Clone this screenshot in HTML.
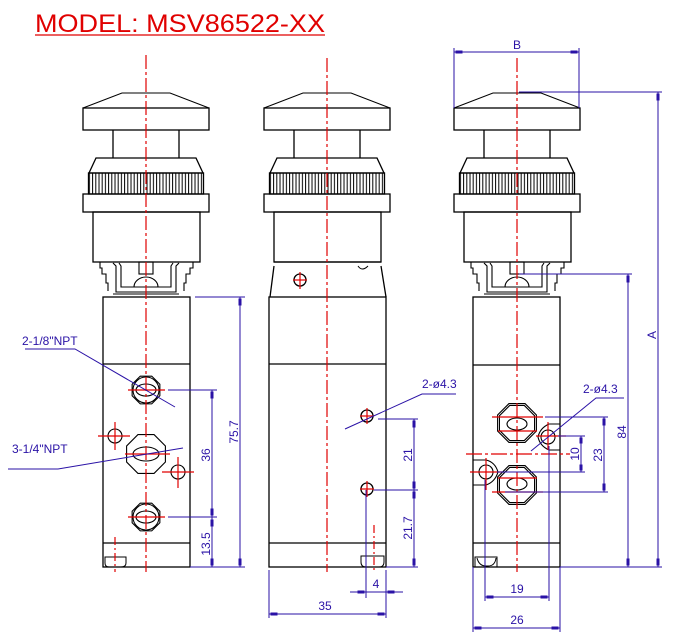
<!DOCTYPE html>
<html><head><meta charset="utf-8"><style>
html,body{margin:0;padding:0;background:#fff;}
svg{display:block;}
text{font-family:"Liberation Sans",sans-serif;}
</style></head><body>
<svg width="690" height="641" viewBox="0 0 690 641" xmlns="http://www.w3.org/2000/svg">
<defs>
<pattern id="kn" width="3.2" height="10" patternUnits="userSpaceOnUse"><line x1="1" y1="0" x2="1" y2="10" stroke="#000" stroke-width="1"/></pattern>
<polygon id="oct" points="0.924,0.383 0.383,0.924 -0.383,0.924 -0.924,0.383 -0.924,-0.383 -0.383,-0.924 0.383,-0.924 0.924,-0.383"/>
<g id="head" fill="none" stroke="#000" stroke-width="1.3">
<polyline points="-63,108 -24,93 24,93 63,108" stroke-width="1"/>
<rect x="-63" y="108" width="126" height="22"/>
<line x1="-33" y1="130" x2="-33" y2="158"/><line x1="33" y1="130" x2="33" y2="158"/>
<polygon points="-50,158 50,158 57,173 -57,173"/>
<rect x="-57.5" y="173" width="115" height="21" fill="url(#kn)"/>
<rect x="-63" y="194" width="126" height="18"/>
<rect x="-53" y="212" width="107" height="50"/>
</g>
<g id="brk" fill="none" stroke="#000" stroke-width="1.1">
<polyline points="-46,262 -46,268 -44,268 -44,274 -40,274 -40,283 -38,283 -38,291"/>
<polyline points="47,262 47,268 44,268 44,274 40,274 40,283 38,283 38,291"/>
<path d="M-33,263 L-30,266 L-30,292 L30,292 L30,266 L33,263"/>
<path d="M-27,263 L-25,266 L-25,287 L25,287 L25,266 L27,263"/>
<path d="M-12,287 A12,10 0 0 1 12,287"/>
<rect x="-7" y="262" width="14" height="12"/>
<line x1="-33" y1="294" x2="33" y2="294"/>
</g>
</defs>
<rect width="690" height="641" fill="#fff"/>
<text x="35" y="32" font-size="25" fill="#e00000" textLength="290" lengthAdjust="spacingAndGlyphs">MODEL: MSV86522-XX</text>
<line x1="35" y1="35" x2="325" y2="35" stroke="#e00000" stroke-width="1.3"/>

<!-- LEFT VIEW -->
<use href="#head" transform="translate(146,0)"/>
<use href="#brk" transform="translate(146,0)"/>
<g fill="none" stroke="#000" stroke-width="1.3">
<rect x="103" y="297" width="87" height="270"/>
<line x1="103" y1="364" x2="190" y2="364"/>
<line x1="103" y1="543" x2="190" y2="543"/>
<path d="M105,557 H126 V563 Q126,567 121,567 H109 Q105,567 105,563 Z" stroke-width="1"/>
<g stroke-width="1.1">
<use href="#oct" transform="translate(146,390) scale(15)" stroke-width="0.073"/>
<circle cx="146" cy="390" r="13"/>
<ellipse cx="146" cy="390" rx="10" ry="6"/>
<use href="#oct" transform="translate(146,454) scale(21)" stroke-width="0.052"/>
<ellipse cx="146" cy="454" rx="13" ry="7"/>
<use href="#oct" transform="translate(146,517) scale(15)" stroke-width="0.073"/>
<circle cx="146" cy="517" r="13"/>
<ellipse cx="146" cy="517" rx="10" ry="6"/>
<circle cx="115" cy="436" r="7"/>
<circle cx="178" cy="472" r="7"/>
</g>
</g>
<g stroke="#e00000" stroke-width="1.2" fill="none">
<line x1="146" y1="55" x2="146" y2="572" stroke-dasharray="14,3,3,3"/>
<line x1="128" y1="390" x2="165" y2="390"/><line x1="125" y1="454" x2="170" y2="454"/><line x1="128" y1="517" x2="165" y2="517"/>
<line x1="98" y1="436" x2="130" y2="436"/><line x1="115" y1="422" x2="115" y2="450"/>
<line x1="162" y1="472" x2="194" y2="472"/><line x1="178" y1="457" x2="178" y2="488"/>
<line x1="115" y1="537" x2="115" y2="572" stroke-dasharray="8,3,2,3"/>
</g>
<g stroke="#2a12a6" stroke-width="1" fill="#2a12a6">
<text x="22" y="345" font-size="12" stroke="none">2-1/8"NPT</text>
<polyline points="25,349 75,349 175,407" fill="none"/>
<text x="12" y="453" font-size="12" stroke="none">3-1/4"NPT</text>
<polyline points="8,469 58,469 183,448" fill="none"/>
<line x1="168" y1="390" x2="217" y2="390"/><line x1="168" y1="517" x2="217" y2="517"/>
<line x1="190" y1="567" x2="245" y2="567"/><line x1="195" y1="297" x2="245" y2="297"/>
<line x1="212" y1="390" x2="212" y2="567"/>
<line x1="240" y1="297" x2="240" y2="567"/>
<rect x="211" y="392" width="2" height="6"/><rect x="211" y="509" width="2" height="6"/><rect x="211" y="520" width="2" height="6"/><rect x="211" y="559" width="2" height="6"/>
<rect x="239" y="299" width="2" height="6"/><rect x="239" y="559" width="2" height="6"/>
<text transform="translate(210,455) rotate(-90)" font-size="12" text-anchor="middle" stroke="none">36</text>
<text transform="translate(210,544) rotate(-90)" font-size="12" text-anchor="middle" stroke="none">13.5</text>
<text transform="translate(238,432) rotate(-90)" font-size="12" text-anchor="middle" stroke="none">75.7</text>
</g>

<!-- MIDDLE VIEW -->
<use href="#head" transform="translate(327,0)"/>
<g fill="none" stroke="#000" stroke-width="1.3">
<line x1="274" y1="262" x2="381" y2="262"/>
<path d="M274,266 L270,297 M381,266 L386,297"/>
<path d="M358,266 Q362,272 368,266" stroke-width="1"/>
<circle cx="300" cy="280" r="6"/>
<rect x="269" y="297" width="117" height="270"/>
<line x1="269" y1="364" x2="386" y2="364"/>
<line x1="269" y1="543" x2="386" y2="543"/>
<path d="M361,556 H384 V562 Q384,567 379,567 H366 Q361,567 361,562 Z" stroke-width="1"/>
<circle cx="367" cy="416" r="6"/>
<circle cx="367" cy="489" r="6"/>
</g>
<g stroke="#e00000" stroke-width="1.2">
<line x1="327" y1="58" x2="327" y2="572" stroke-dasharray="14,3,3,3"/>
<line x1="293" y1="280" x2="307" y2="280"/><line x1="300" y1="272" x2="300" y2="289"/>
<line x1="360" y1="416" x2="374" y2="416"/><line x1="367" y1="408" x2="367" y2="424"/>
<line x1="360" y1="489" x2="374" y2="489"/><line x1="367" y1="481" x2="367" y2="497"/>
<line x1="374" y1="525" x2="374" y2="570" stroke-dasharray="8,3,2,3"/>
</g>
<g stroke="#2a12a6" stroke-width="1" fill="#2a12a6">
<text x="422" y="388" font-size="12" stroke="none">2-ø4.3</text>
<polyline points="456,394 422,394 345,429" fill="none"/>
<line x1="378" y1="419" x2="418" y2="419"/><line x1="374" y1="490" x2="418" y2="490"/><line x1="386" y1="567" x2="418" y2="567"/>
<line x1="414" y1="419" x2="414" y2="567"/>
<rect x="413" y="421" width="2" height="6"/><rect x="413" y="482" width="2" height="6"/><rect x="413" y="492" width="2" height="6"/><rect x="413" y="559" width="2" height="6"/>
<text transform="translate(412,455) rotate(-90)" font-size="12" text-anchor="middle" stroke="none">21</text>
<text transform="translate(412,528) rotate(-90)" font-size="12" text-anchor="middle" stroke="none">21.7</text>
<line x1="366" y1="490" x2="366" y2="598"/><line x1="386" y1="570" x2="386" y2="618"/>
<line x1="350" y1="592" x2="403" y2="592"/>
<rect x="358" y="591" width="6" height="2"/><rect x="388" y="591" width="6" height="2"/>
<text x="376" y="588" font-size="12" text-anchor="middle" stroke="none">4</text>
<line x1="269" y1="570" x2="269" y2="618"/>
<line x1="269" y1="614" x2="386" y2="614"/>
<rect x="271" y="613" width="6" height="2"/><rect x="378" y="613" width="6" height="2"/>
<text x="325" y="610" font-size="12" text-anchor="middle" stroke="none">35</text>
</g>

<!-- RIGHT VIEW -->
<use href="#head" transform="translate(517,0)"/>
<use href="#brk" transform="translate(517,0)"/>
<g fill="none" stroke="#000" stroke-width="1.3">
<rect x="473" y="297" width="87" height="270"/>
<line x1="473" y1="365" x2="560" y2="365"/>
<line x1="473" y1="543" x2="560" y2="543"/>
<path d="M475,557 H497 V567 H475 Z" stroke-width="1"/>
<path d="M477,558 Q479,566 486,566 H488 Q495,566 496,558" stroke-width="1"/>
<g stroke-width="1.1">
<use href="#oct" transform="translate(517,423) scale(21)" stroke-width="0.052"/>
<use href="#oct" transform="translate(517,423) scale(19)" stroke-width="0.058"/>
<ellipse cx="517" cy="424" rx="10" ry="6"/>
<use href="#oct" transform="translate(517,485) scale(21)" stroke-width="0.052"/>
<use href="#oct" transform="translate(517,485) scale(19)" stroke-width="0.058"/>
<ellipse cx="517" cy="484" rx="10" ry="6"/>
<circle cx="548" cy="437" r="7"/>
<path d="M560,424 H549 Q540,428 538,437 Q540,446 549,450 H560"/>
<circle cx="486" cy="472" r="7"/>
<path d="M473,460 H486 Q495,462 498,472 Q495,482 486,485 H473"/>
</g>
</g>
<g stroke="#e00000" stroke-width="1.2">
<line x1="517" y1="58" x2="517" y2="572" stroke-dasharray="14,3,3,3"/>
<line x1="492" y1="417" x2="543" y2="417"/><line x1="498" y1="431" x2="537" y2="431"/>
<line x1="492" y1="492" x2="543" y2="492"/><line x1="498" y1="478" x2="537" y2="478"/>
<line x1="466" y1="454" x2="570" y2="454" stroke-dasharray="16,3,3,3"/>
<line x1="536" y1="436" x2="566" y2="436"/><line x1="548" y1="422" x2="548" y2="450"/>
<line x1="470" y1="472" x2="502" y2="472"/><line x1="486" y1="458" x2="486" y2="490"/>
</g>
<g stroke="#2a12a6" stroke-width="1" fill="#2a12a6">
<line x1="454" y1="48" x2="454" y2="108"/><line x1="579" y1="48" x2="579" y2="108"/>
<line x1="454" y1="52" x2="579" y2="52"/>
<rect x="456" y="51" width="6" height="2"/><rect x="571" y="51" width="6" height="2"/>
<text x="517" y="49" font-size="12" text-anchor="middle" stroke="none">B</text>
<line x1="519" y1="92" x2="662" y2="92"/><line x1="560" y1="567" x2="662" y2="567"/>
<line x1="658" y1="92" x2="658" y2="567"/>
<rect x="657" y="94" width="2" height="6"/><rect x="657" y="559" width="2" height="6"/>
<text transform="translate(656,335) rotate(-90)" font-size="12" text-anchor="middle" stroke="none">A</text>
<line x1="519" y1="274" x2="632" y2="274"/>
<line x1="628" y1="274" x2="628" y2="567"/>
<rect x="627" y="276" width="2" height="6"/><rect x="627" y="559" width="2" height="6"/>
<text transform="translate(626,432) rotate(-90)" font-size="12" text-anchor="middle" stroke="none">84</text>
<text x="583" y="393" font-size="12" stroke="none">2-ø4.3</text>
<polyline points="624,398 596,398 531,451" fill="none"/>
<line x1="545" y1="417" x2="608" y2="417"/><line x1="505" y1="492" x2="608" y2="492"/>
<line x1="604" y1="417" x2="604" y2="492"/>
<rect x="603" y="419" width="2" height="6"/><rect x="603" y="484" width="2" height="6"/>
<text transform="translate(602,455) rotate(-90)" font-size="12" text-anchor="middle" stroke="none">23</text>
<line x1="558" y1="436" x2="585" y2="436"/><line x1="497" y1="472" x2="585" y2="472"/>
<line x1="581" y1="436" x2="581" y2="472"/>
<rect x="580" y="438" width="2" height="5"/><rect x="580" y="465" width="2" height="5"/>
<text transform="translate(579,454) rotate(-90)" font-size="12" text-anchor="middle" stroke="none">10</text>
<line x1="485" y1="480" x2="485" y2="601"/><line x1="549" y1="446" x2="549" y2="601"/>
<line x1="485" y1="597" x2="549" y2="597"/>
<rect x="487" y="596" width="6" height="2"/><rect x="541" y="596" width="6" height="2"/>
<text x="517" y="593" font-size="12" text-anchor="middle" stroke="none">19</text>
<line x1="473" y1="567" x2="473" y2="632"/><line x1="560" y1="567" x2="560" y2="632"/>
<line x1="473" y1="628" x2="560" y2="628"/>
<rect x="475" y="627" width="6" height="2"/><rect x="552" y="627" width="6" height="2"/>
<text x="517" y="624" font-size="12" text-anchor="middle" stroke="none">26</text>
</g>
</svg>
</body></html>
